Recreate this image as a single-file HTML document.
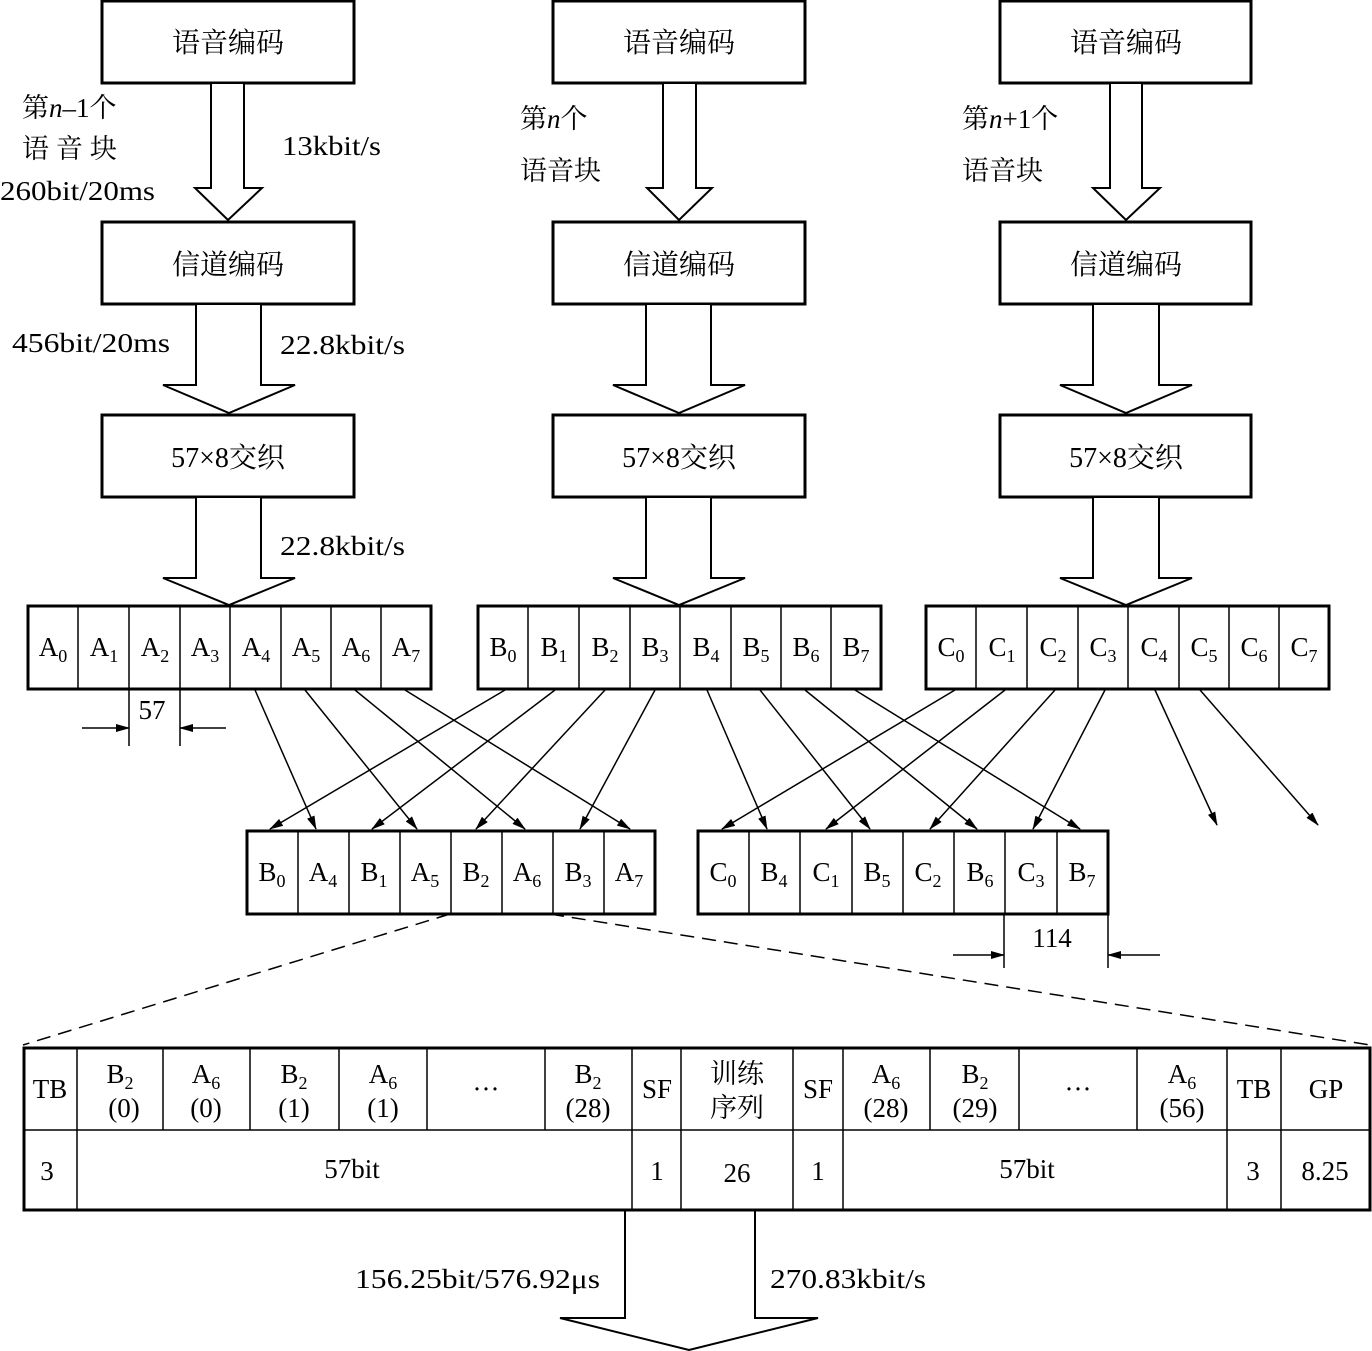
<!DOCTYPE html>
<html><head><meta charset="utf-8"><style>
html,body{margin:0;padding:0;background:#fff;}
svg{display:block;}
text{font-family:"Liberation Serif","Noto Serif CJK SC","Noto Sans CJK SC",serif;fill:#000;}
.cj{font-family:"Noto Serif CJK SC","Noto Sans CJK SC",serif;}
</style></head><body>
<svg width="1372" height="1351" viewBox="0 0 1372 1351" xmlns="http://www.w3.org/2000/svg">
<defs>
<marker id="ah" markerWidth="14" markerHeight="8" refX="13" refY="4" orient="auto" markerUnits="userSpaceOnUse">
<path d="M0,0 L14,4 L0,8 Z" fill="#000"/></marker>
</defs>
<g fill="none" stroke="#000" stroke-width="3">
<rect x="102" y="1" width="252" height="82"/><rect x="553" y="1" width="252" height="82"/><rect x="1000" y="1" width="251" height="82"/>
<rect x="102" y="222" width="252" height="82"/><rect x="553" y="222" width="252" height="82"/><rect x="1000" y="222" width="251" height="82"/>
<rect x="102" y="415" width="252" height="82"/><rect x="553" y="415" width="252" height="82"/><rect x="1000" y="415" width="251" height="82"/>
</g>
<g fill="#fff" stroke="#000" stroke-width="2">
<path d="M211,84 V188 H195 L228,220 L262,188 H244 V84"/>
<path d="M663,84 V188 H647 L679,220 L712,188 H696 V84"/>
<path d="M1110,84 V188 H1093 L1126,220 L1160,188 H1142 V84"/>
<path d="M196,305 V385 H163 L229,413 L295,385 H261 V305"/>
<path d="M646,305 V385 H613 L679,413 L745,385 H711 V305"/>
<path d="M1093,305 V385 H1060 L1126,413 L1192,385 H1159 V305"/>
<path d="M196,498 V578 H163 L229,605 L295,578 H261 V498"/>
<path d="M646,498 V578 H613 L679,605 L745,578 H711 V498"/>
<path d="M1093,498 V578 H1060 L1126,605 L1192,578 H1159 V498"/>
<path d="M625,1211 V1318 H560 L689,1350 L818,1318 H755 V1211"/>
</g>
<g font-size="28" text-anchor="middle" class="cj">
<text x="228" y="52" class="cj">语音编码</text><text x="679" y="52" class="cj">语音编码</text><text x="1126" y="52" class="cj">语音编码</text>
<text x="228" y="274" class="cj">信道编码</text><text x="679" y="274" class="cj">信道编码</text><text x="1126" y="274" class="cj">信道编码</text>
</g>
<g font-size="28" text-anchor="middle">
<text x="228" y="467">57×8<tspan class="cj">交织</tspan></text>
<text x="679" y="467">57×8<tspan class="cj">交织</tspan></text>
<text x="1126" y="467">57×8<tspan class="cj">交织</tspan></text>
</g>
<g font-size="27">
<text x="22" y="117"><tspan class="cj">第</tspan><tspan font-style="italic">n</tspan>–1<tspan class="cj">个</tspan></text>
<text x="22" y="158" class="cj">语 音 块</text>
<text x="0" y="200" textLength="155" lengthAdjust="spacingAndGlyphs">260bit/20ms</text>
<text x="282" y="155" textLength="99" lengthAdjust="spacingAndGlyphs">13kbit/s</text>
<text x="520" y="128"><tspan class="cj">第</tspan><tspan font-style="italic">n</tspan><tspan class="cj">个</tspan></text>
<text x="520" y="180" class="cj">语音块</text>
<text x="962" y="128"><tspan class="cj">第</tspan><tspan font-style="italic">n</tspan>+1<tspan class="cj">个</tspan></text>
<text x="962" y="180" class="cj">语音块</text>
<text x="12" y="352" textLength="158" lengthAdjust="spacingAndGlyphs">456bit/20ms</text>
<text x="280" y="354" textLength="125" lengthAdjust="spacingAndGlyphs">22.8kbit/s</text>
<text x="280" y="555" textLength="125" lengthAdjust="spacingAndGlyphs">22.8kbit/s</text>
<text x="355" y="1288" textLength="245" lengthAdjust="spacingAndGlyphs">156.25bit/576.92μs</text>
<text x="770" y="1288" textLength="156" lengthAdjust="spacingAndGlyphs">270.83kbit/s</text>
</g>
<g fill="none" stroke="#000" stroke-width="3">
<rect x="28" y="606" width="403" height="83"/><rect x="478" y="606" width="403" height="83"/><rect x="926" y="606" width="403" height="83"/>
<rect x="247" y="831" width="408" height="83"/><rect x="698" y="831" width="410" height="83"/>
</g>
<g stroke="#000" stroke-width="1.5">
<path d="M78,606V689M129,606V689M180,606V689M230,606V689M281,606V689M331,606V689M381,606V689"/>
<path d="M528,606V689M579,606V689M630,606V689M680,606V689M731,606V689M781,606V689M831,606V689"/>
<path d="M976,606V689M1027,606V689M1078,606V689M1128,606V689M1179,606V689M1229,606V689M1279,606V689"/>
<path d="M298,831V914M349,831V914M400,831V914M451,831V914M502,831V914M553,831V914M604,831V914"/>
<path d="M749,831V914M800,831V914M852,831V914M903,831V914M954,831V914M1005,831V914M1057,831V914"/>
</g>
<g font-size="27" text-anchor="middle">
<text x="53" y="656">A<tspan font-size="18" dy="6">0</tspan></text>
<text x="104" y="656">A<tspan font-size="18" dy="6">1</tspan></text>
<text x="155" y="656">A<tspan font-size="18" dy="6">2</tspan></text>
<text x="205" y="656">A<tspan font-size="18" dy="6">3</tspan></text>
<text x="256" y="656">A<tspan font-size="18" dy="6">4</tspan></text>
<text x="306" y="656">A<tspan font-size="18" dy="6">5</tspan></text>
<text x="356" y="656">A<tspan font-size="18" dy="6">6</tspan></text>
<text x="406" y="656">A<tspan font-size="18" dy="6">7</tspan></text>
<text x="503" y="656">B<tspan font-size="18" dy="6">0</tspan></text>
<text x="554" y="656">B<tspan font-size="18" dy="6">1</tspan></text>
<text x="605" y="656">B<tspan font-size="18" dy="6">2</tspan></text>
<text x="655" y="656">B<tspan font-size="18" dy="6">3</tspan></text>
<text x="706" y="656">B<tspan font-size="18" dy="6">4</tspan></text>
<text x="756" y="656">B<tspan font-size="18" dy="6">5</tspan></text>
<text x="806" y="656">B<tspan font-size="18" dy="6">6</tspan></text>
<text x="856" y="656">B<tspan font-size="18" dy="6">7</tspan></text>
<text x="951" y="656">C<tspan font-size="18" dy="6">0</tspan></text>
<text x="1002" y="656">C<tspan font-size="18" dy="6">1</tspan></text>
<text x="1053" y="656">C<tspan font-size="18" dy="6">2</tspan></text>
<text x="1103" y="656">C<tspan font-size="18" dy="6">3</tspan></text>
<text x="1154" y="656">C<tspan font-size="18" dy="6">4</tspan></text>
<text x="1204" y="656">C<tspan font-size="18" dy="6">5</tspan></text>
<text x="1254" y="656">C<tspan font-size="18" dy="6">6</tspan></text>
<text x="1304" y="656">C<tspan font-size="18" dy="6">7</tspan></text>
<text x="272" y="881">B<tspan font-size="18" dy="6">0</tspan></text>
<text x="323" y="881">A<tspan font-size="18" dy="6">4</tspan></text>
<text x="374" y="881">B<tspan font-size="18" dy="6">1</tspan></text>
<text x="425" y="881">A<tspan font-size="18" dy="6">5</tspan></text>
<text x="476" y="881">B<tspan font-size="18" dy="6">2</tspan></text>
<text x="527" y="881">A<tspan font-size="18" dy="6">6</tspan></text>
<text x="578" y="881">B<tspan font-size="18" dy="6">3</tspan></text>
<text x="629" y="881">A<tspan font-size="18" dy="6">7</tspan></text>
<text x="723" y="881">C<tspan font-size="18" dy="6">0</tspan></text>
<text x="774" y="881">B<tspan font-size="18" dy="6">4</tspan></text>
<text x="826" y="881">C<tspan font-size="18" dy="6">1</tspan></text>
<text x="877" y="881">B<tspan font-size="18" dy="6">5</tspan></text>
<text x="928" y="881">C<tspan font-size="18" dy="6">2</tspan></text>
<text x="980" y="881">B<tspan font-size="18" dy="6">6</tspan></text>
<text x="1031" y="881">C<tspan font-size="18" dy="6">3</tspan></text>
<text x="1082" y="881">B<tspan font-size="18" dy="6">7</tspan></text>
<text x="152" y="719">57</text>
<text x="1052" y="947">114</text>
</g>
<g stroke="#000" stroke-width="1.5" marker-end="url(#ah)">
<line x1="255" y1="690" x2="316" y2="829"/>
<line x1="305" y1="690" x2="417" y2="829"/>
<line x1="355" y1="690" x2="525" y2="829"/>
<line x1="405" y1="690" x2="630" y2="829"/>
<line x1="505" y1="690" x2="270" y2="829"/>
<line x1="555" y1="690" x2="372" y2="829"/>
<line x1="605" y1="690" x2="476" y2="829"/>
<line x1="655" y1="690" x2="580" y2="829"/>
<line x1="707" y1="690" x2="767" y2="829"/>
<line x1="760" y1="690" x2="870" y2="829"/>
<line x1="805" y1="690" x2="977" y2="829"/>
<line x1="855" y1="690" x2="1080" y2="829"/>
<line x1="955" y1="690" x2="722" y2="829"/>
<line x1="1005" y1="690" x2="826" y2="829"/>
<line x1="1055" y1="690" x2="930" y2="829"/>
<line x1="1105" y1="690" x2="1033" y2="829"/>
<line x1="1155" y1="690" x2="1217" y2="825"/>
<line x1="1200" y1="690" x2="1318" y2="825"/>
<line x1="82" y1="728" x2="129" y2="728"/>
<line x1="226" y1="728" x2="180" y2="728"/>
<line x1="953" y1="955" x2="1004" y2="955"/>
<line x1="1160" y1="955" x2="1108" y2="955"/>
</g>
<g stroke="#000" stroke-width="1.5">
<path d="M129,689V746M180,689V746M1004,914V968M1108,914V968"/>
<path d="M450,914L23,1045M550,914L1370,1045" stroke-dasharray="14,8"/>
</g>
<rect x="24" y="1048" width="1346" height="162" fill="none" stroke="#000" stroke-width="3"/>
<g stroke="#000" stroke-width="1.5">
<path d="M24,1130H1370"/>
<path d="M77,1048V1210M632,1048V1210M681,1048V1210M793,1048V1210M843,1048V1210M1227,1048V1210M1281,1048V1210"/>
<path d="M163,1048V1130M250,1048V1130M339,1048V1130M427,1048V1130M545,1048V1130M930,1048V1130M1019,1048V1130M1137,1048V1130"/>
</g>
<g font-size="27" text-anchor="middle">
<text x="50" y="1098">TB</text>
<text x="120" y="1083">B<tspan font-size="18" dy="6">2</tspan></text><text x="124" y="1117">(0)</text>
<text x="206" y="1083">A<tspan font-size="18" dy="6">6</tspan></text><text x="206" y="1117">(0)</text>
<text x="294" y="1083">B<tspan font-size="18" dy="6">2</tspan></text><text x="294" y="1117">(1)</text>
<text x="383" y="1083">A<tspan font-size="18" dy="6">6</tspan></text><text x="383" y="1117">(1)</text>
<text x="486" y="1098">···</text>
<text x="588" y="1083">B<tspan font-size="18" dy="6">2</tspan></text><text x="588" y="1117">(28)</text>
<text x="657" y="1098">SF</text>
<text x="737" y="1083" class="cj">训练</text><text x="737" y="1117" class="cj">序列</text>
<text x="818" y="1098">SF</text>
<text x="886" y="1083">A<tspan font-size="18" dy="6">6</tspan></text><text x="886" y="1117">(28)</text>
<text x="975" y="1083">B<tspan font-size="18" dy="6">2</tspan></text><text x="975" y="1117">(29)</text>
<text x="1078" y="1098">···</text>
<text x="1182" y="1083">A<tspan font-size="18" dy="6">6</tspan></text><text x="1182" y="1117">(56)</text>
<text x="1254" y="1098">TB</text>
<text x="1326" y="1098">GP</text>
<text x="47" y="1180">3</text>
<text x="352" y="1178">57bit</text>
<text x="657" y="1180">1</text>
<text x="737" y="1182">26</text>
<text x="818" y="1180">1</text>
<text x="1027" y="1178">57bit</text>
<text x="1253" y="1180">3</text>
<text x="1325" y="1180">8.25</text>
</g>
</svg>
</body></html>
